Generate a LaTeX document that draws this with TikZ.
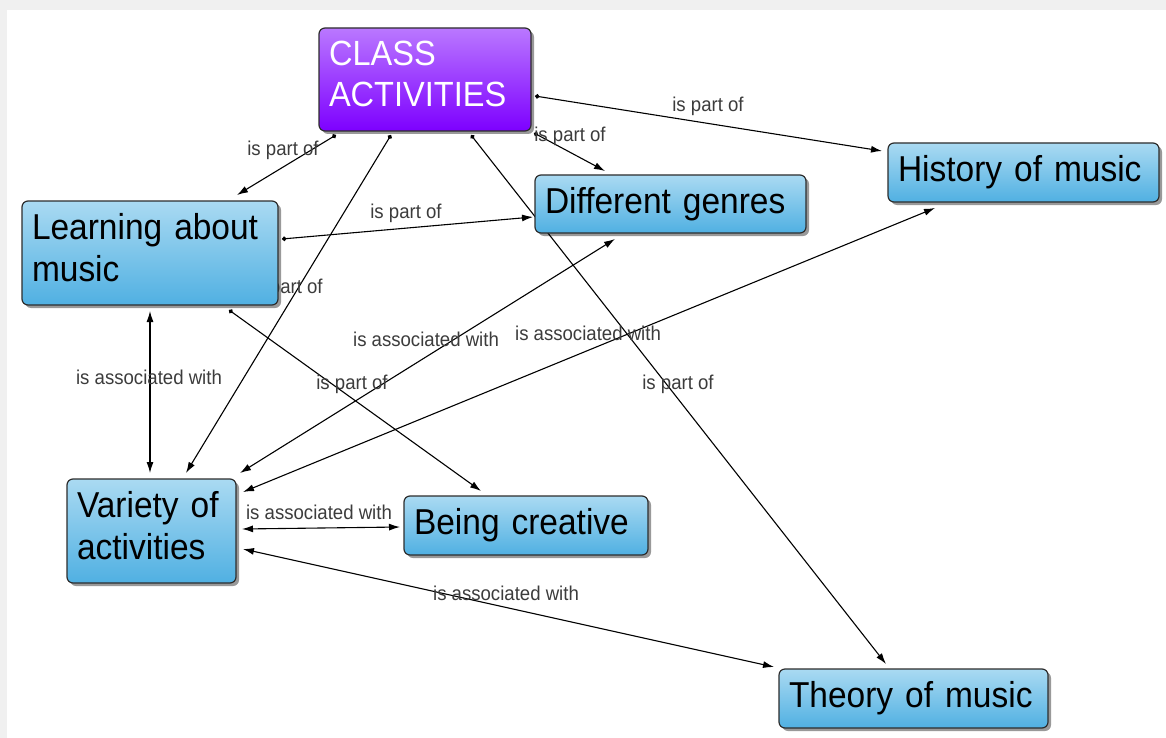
\documentclass[tikz,border=0pt]{standalone}
\usepackage{fontspec}
\setmainfont{Liberation Sans}[FakeStretch=0.93]
\newfontfamily\labelfont[FakeStretch=0.93]{Liberation Sans}
\usetikzlibrary{shadows,arrows.meta,calc}
\definecolor{bluetop}{RGB}{170,218,242}
\definecolor{bluebot}{RGB}{80,176,226}
\definecolor{purtop}{RGB}{186,120,255}
\definecolor{purbot}{RGB}{125,0,255}
\definecolor{edgegray}{RGB}{45,45,45}
\definecolor{labgray}{RGB}{60,60,60}
\definecolor{bggray}{RGB}{240,240,240}
\pgfdeclarelayer{backlayer}
\pgfdeclarelayer{edgelayer}
\pgfsetlayers{backlayer,edgelayer,main}
\tikzset{
  concept/.style={rectangle, rounded corners=6pt, draw=edgegray, line width=1.2pt,
    top color=bluetop, bottom color=bluebot, anchor=north west, align=left,
    inner xsep=10pt, inner ysep=0pt, outer sep=0pt, text=black,
    drop shadow={shadow xshift=3pt, shadow yshift=-3pt, opacity=0.4, fill=black},
    font=\fontsize{36}{42}\selectfont},
  twoline/.style={text depth=53pt},
  root/.style={concept, top color=purtop, bottom color=purbot, text=white,
    font=\fontsize{35}{41}\selectfont},
  link/.style={line width=1.1pt, draw=black, {Circle[length=4.5pt]}-{Latex[length=11pt,width=7pt]}},
  twoway/.style={line width=1.1pt, draw=black, {Latex[length=11pt,width=7pt]}-{Latex[length=11pt,width=7pt]}},
  lab/.style={font=\labelfont\fontsize{20}{22}\selectfont, text=labgray, inner sep=0pt},
}
\begin{document}
\begin{tikzpicture}[x=1pt,y=-1pt]
\useasboundingbox (0,0) rectangle (1166,738);
\begin{pgfonlayer}{backlayer}
\fill[bggray] (0,0) rectangle (1166,738);
\fill[white] (7,10) rectangle (1166,738);
\end{pgfonlayer}

% concepts
\node[root, twoline, minimum width=212pt, minimum height=103pt, text width=192pt] (ca) at (319,28) {CLASS\\ACTIVITIES};
\node[concept, twoline, minimum width=256pt, minimum height=104pt, text width=236pt] (lam) at (22,201) {Learning about\\music};
\node[concept, minimum width=271pt, minimum height=58pt, text width=251pt] (dg) at (535,175) {Different genres};
\node[concept, minimum width=271pt, minimum height=59pt, text width=251pt] (hm) at (888,143) {History of music};
\node[concept, twoline, minimum width=169pt, minimum height=104pt, text width=149pt] (va) at (67,479) {Variety of\\activities};
\node[concept, minimum width=244pt, minimum height=59pt, text width=224pt] (bc) at (404,496) {Being creative};
\node[concept, minimum width=269pt, minimum height=59pt, text width=249pt] (tm) at (779,669) {Theory of music};

\begin{pgfonlayer}{edgelayer}
% connectors
\draw[link] ($(ca.south west)+(17,4)$) -- ($(lam.north west)+(215,-6)$);
\draw[link] ($(ca.south west)+(72,4)$) -- ($(va.north west)+(119,-6)$);
\draw[link] ($(ca.south west)+(152,4)$) -- ($(tm.north west)+(107,-5)$);
\draw[link] ($(ca.south east)+(3,2)$) -- ($(dg.north west)+(70,-4)$);
\draw[link] ($(ca.north east)+(4,68)$) -- ($(hm.north west)+(-6,8)$);
\draw[link] ($(lam.north east)+(4,38)$) -- ($(dg.north west)+(-2,42)$);
\draw[link] ($(lam.south west)+(207,5)$) -- ($(bc.north west)+(77,-5)$);
\draw[twoway] ($(lam.south west)+(128,6)$) -- ($(va.north west)+(83,-6)$);
\draw[twoway] ($(dg.south west)+(80,6)$) -- ($(va.north east)+(4,-6)$);
\draw[twoway] ($(hm.south west)+(47,6)$) -- ($(va.north east)+(7,13)$);
\draw[twoway] ($(va.north east)+(6,50)$) -- ($(bc.north west)+(-4,31)$);
\draw[twoway] ($(va.north east)+(7,70)$) -- ($(tm.north west)+(-5,-2)$);
% labels
\node[lab] (l1) at (283,150) {is part of};
\node[lab] (l2) at (287,288) {is part of};
\node[lab] (l3) at (570,136) {is part of};
\node[lab] (l4) at (708,106) {is part of};
\node[lab] (l5) at (406,213) {is part of};
\node[lab] (l6) at (352,384) {is part of};
\node[lab] (l7) at (678,384) {is part of};
\node[lab] (l8) at (149,377) {is associated with};
\node[lab] (l9) at (426,339) {is associated with};
\node[lab] (l10) at (588,333) {is associated with};
\node[lab] (l11) at (319,512) {is associated with};
\node[lab] (l12) at (506,593) {is associated with};
\end{pgfonlayer}
\end{tikzpicture}
\end{document}
